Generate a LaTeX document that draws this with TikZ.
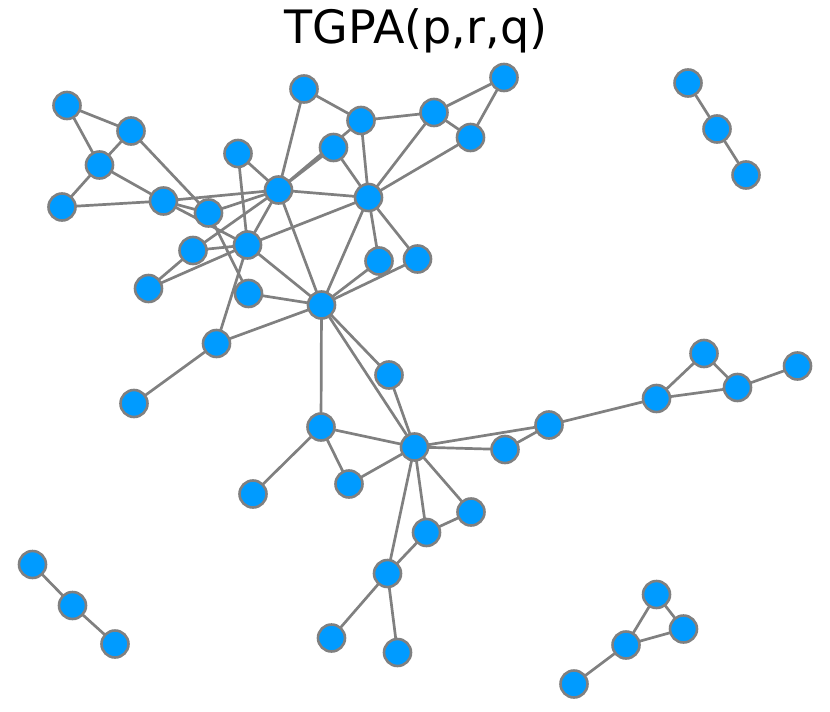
\documentclass[tikz,border=0pt]{standalone}
\usepackage{fontspec}
\setmainfont{DejaVu Sans}
\usetikzlibrary{backgrounds}
\definecolor{nodeblue}{RGB}{0,155,255}
\definecolor{edgegray}{RGB}{128,128,128}
\begin{document}
\begin{tikzpicture}[x=1pt,y=-1pt,
  vtx/.style={circle, fill=nodeblue, draw=edgegray, line width=2.6pt, minimum size=27pt, inner sep=0pt},
  edge/.style={draw=edgegray, line width=2.7pt}]
\useasboundingbox (0,0) rectangle (830,712);
\node[anchor=base, font=\fontsize{46}{52}\selectfont] (title) at (416,43) {TGPA(p,r,q)};
% main component
\node[vtx] (a1) at (67,105.5) {};
\node[vtx] (a2) at (131,131) {};
\node[vtx] (a3) at (99.5,165) {};
\node[vtx] (a4) at (62,207) {};
\node[vtx] (a5) at (163.5,201) {};
\node[vtx] (a6) at (208.5,213) {};
\node[vtx] (a7) at (238,153.5) {};
\node[vtx] (a8) at (278.5,190) {};
\node[vtx] (a9) at (304,89) {};
\node[vtx] (a10) at (361,120.5) {};
\node[vtx] (a11) at (333.5,147.5) {};
\node[vtx] (a12) at (434,112.5) {};
\node[vtx] (a13) at (504,77.5) {};
\node[vtx] (a14) at (470.5,137.5) {};
\node[vtx] (a15) at (368.5,197.5) {};
\node[vtx] (a16) at (247.5,245) {};
\node[vtx] (a17) at (193,250.5) {};
\node[vtx] (a18) at (148.5,288.5) {};
\node[vtx] (a19) at (248.5,293.5) {};
\node[vtx] (a20) at (379,261) {};
\node[vtx] (a21) at (417.5,259) {};
\node[vtx] (a22) at (321.5,305) {};
\node[vtx] (a23) at (216.5,343.5) {};
\node[vtx] (a24) at (134,403.5) {};
\node[vtx] (a25) at (389,375) {};
\node[vtx] (a26) at (321,427) {};
\node[vtx] (a27) at (414.5,447) {};
\node[vtx] (a28) at (349,484) {};
\node[vtx] (a29) at (253,494) {};
\node[vtx] (a30) at (505,449.5) {};
\node[vtx] (a31) at (549,425) {};
\node[vtx] (a32) at (656.5,398.5) {};
\node[vtx] (a33) at (704,353.5) {};
\node[vtx] (a34) at (737.5,387.5) {};
\node[vtx] (a35) at (797.5,366) {};
\node[vtx] (a36) at (471,512) {};
\node[vtx] (a37) at (426.5,532.5) {};
\node[vtx] (a38) at (387.5,573.5) {};
\node[vtx] (a39) at (331.5,638) {};
\node[vtx] (a40) at (397.5,652.5) {};
% small components
\node[vtx] (b1) at (688,83) {};
\node[vtx] (b2) at (717,129) {};
\node[vtx] (b3) at (746,175) {};
\node[vtx] (c1) at (32.5,564.5) {};
\node[vtx] (c2) at (72.5,605.5) {};
\node[vtx] (c3) at (115,644) {};
\node[vtx] (d1) at (656.5,594.5) {};
\node[vtx] (d2) at (683.5,629) {};
\node[vtx] (d3) at (626,645) {};
\node[vtx] (d4) at (574,684) {};
\begin{pgfonlayer}{background}
\foreach \u/\v in {a1/a2,a1/a3,a2/a3,a3/a4,a3/a5,a4/a5,a2/a6,a6/a19,a5/a8,a5/a6,a5/a16,
  a6/a8,a7/a8,a7/a16,a8/a17,a17/a16,a18/a17,a18/a16,a16/a8,a16/a15,a16/a22,a8/a15,a8/a22,
  a8/a11,a8/a10,a8/a9,a9/a10,a10/a12,a10/a15,a11/a15,a12/a13,a12/a14,a13/a14,a12/a15,a14/a15,
  a15/a20,a15/a21,a15/a22,a22/a20,a22/a21,a19/a22,a16/a23,a23/a22,a23/a24,a22/a26,a22/a25,
  a22/a27,a25/a27,a26/a27,a26/a28,a26/a29,a27/a28,a27/a30,a27/a31,a30/a31,a31/a32,a32/a33,
  a32/a34,a33/a34,a34/a35,a27/a36,a27/a37,a27/a38,a36/a37,a37/a38,a38/a39,a38/a40,
  b1/b2,b2/b3,c1/c2,c2/c3,d1/d2,d1/d3,d2/d3,d3/d4}
  {\draw[edge] (\u.center) -- (\v.center);}
\end{pgfonlayer}
\end{tikzpicture}
\end{document}
